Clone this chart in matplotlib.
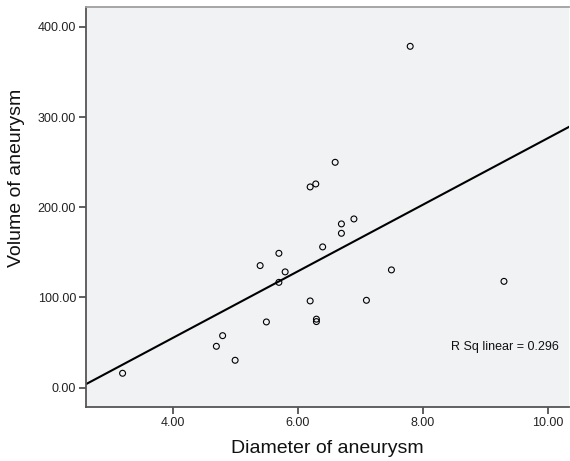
import numpy as np
import matplotlib
matplotlib.use("Agg")
import matplotlib.pyplot as plt

plt.rcParams['font.family'] = ['Liberation Sans', 'DejaVu Sans']

diameter = [7.80, 6.60, 6.20, 6.29, 6.70, 6.90, 6.70, 6.40, 5.70, 5.40, 5.80, 5.70,
            7.50, 6.20, 7.10, 5.50, 6.30, 6.30, 4.80, 4.70, 5.00, 3.20, 9.30]
volume = [378.4, 249.8, 222.5, 225.8, 181.5, 187.0, 171.1, 156.0, 148.9, 135.3, 128.3, 116.7,
          130.5, 96.1, 96.8, 72.8, 75.9, 73.2, 57.6, 45.8, 30.3, 15.9, 117.8]
x_ticks = [4, 6, 8, 10]
y_ticks = [0, 100, 200, 300, 400]
x_label = "Diameter of aneurysm"
y_label = "Volume of aneurysm"

x = np.array(diameter)
y = np.array(volume)
slope, intercept = np.polyfit(x, y, 1)
pred = slope * x + intercept
r2 = 1 - np.sum((y - pred) ** 2) / np.sum((y - y.mean()) ** 2)

fig = plt.figure(figsize=(5.70, 4.61), dpi=100)
ax = fig.add_axes([85.7 / 570, 1 - 407 / 461, (569 - 85.7) / 570, (407 - 7) / 461])
ax.set_facecolor('#F1F2F4')

xmin, xmax = 2.61, 10.34
ax.set_xlim(xmin, xmax)
ax.set_ylim(-21.5, 422)

xs = np.array([xmin, xmax])
ax.plot(xs, slope * xs + intercept, color='black', lw=1.5, zorder=2)
ax.scatter(x, y, s=18, facecolors='none', edgecolors='black', linewidths=0.8, zorder=3)

ax.set_xticks(x_ticks)
ax.set_xticklabels([f"{v:.2f}" for v in x_ticks])
ax.set_yticks(y_ticks)
ax.set_yticklabels([f"{v:.2f}" for v in y_ticks])
ax.tick_params(direction='out', length=5, width=1.2, colors='#444444', labelsize=9,
               labelcolor='#222222', pad=2)

for side in ['left', 'bottom']:
    ax.spines[side].set_color('#555555')
    ax.spines[side].set_linewidth(1.3)
ax.spines['top'].set_color('#a0a0a0')
ax.spines['top'].set_linewidth(1.3)
ax.spines['right'].set_visible(False)

ax.set_xlabel(x_label, fontsize=14, color='#111111', labelpad=8)
fig.text(17 / 570, 1 - 178 / 461, y_label, rotation=90, fontsize=14, color='#111111',
         ha='center', va='center')

ax.text(559 / 570, 1 - 347 / 461, f"R Sq linear = {r2:.3f}", transform=fig.transFigure,
        ha='right', va='center', fontsize=9, color='#111111')

fig.savefig("out.png", dpi=100)
